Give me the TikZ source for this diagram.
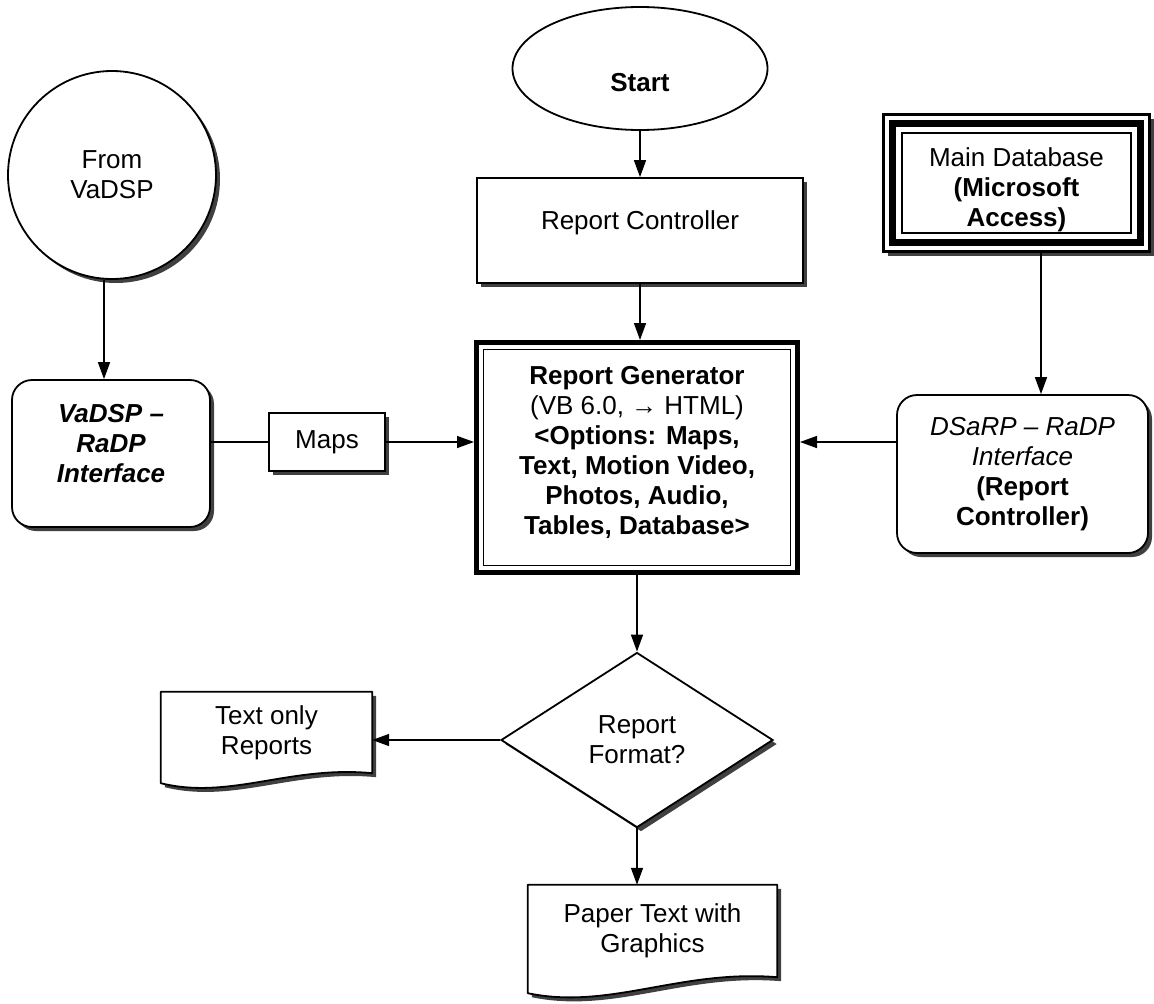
\documentclass[tikz,border=0pt]{standalone}
\usepackage{fontspec}
\setmainfont{Liberation Sans}
\usetikzlibrary{shapes.geometric,arrows.meta,shadows,calc,backgrounds}

\begin{document}
\begin{tikzpicture}[x=1pt,y=-1pt,
  every node/.style={font=\fontsize{26}{30}\selectfont, align=center, inner sep=0pt},
  outline/.style={draw, line width=1.8pt, fill=white},
  castshadow/.style={drop shadow={shadow xshift=4pt, shadow yshift=-4pt, fill=black!75, opacity=1}},
  arr/.style={line width=1.5pt, -{Triangle[length=17pt,width=12pt]}},
  link/.style={line width=1.5pt},
  docline/.style={line width=1.8pt, fill=white, line join=round, castshadow},
]
\useasboundingbox (0,0) rectangle (1154,1004);

% terminals and sources
\node[outline, ellipse, minimum width=255pt, minimum height=123pt,
      font={\fontsize{26}{30}\selectfont\bfseries}, text height=45pt, text depth=0pt]
      (start) at (640,68.5) {Start};
\node[outline, circle, castshadow, minimum size=208pt] (vsrc) at (112,175) {From\\VaDSP};

% process boxes
\node[outline, castshadow, minimum width=326pt, minimum height=105pt,
      text height=18.5pt, text depth=21pt] (rc) at (640,230.5) {Report Controller};

\node[draw, line width=5pt, fill=white, minimum width=321pt, minimum height=230pt]
      (rg) at (637,457.5)
      {\textbf{Report Generator}\\(VB 6.0, → HTML)\\\textbf{<Options: Maps,}\\
       \textbf{Text, Motion Video,}\\\textbf{Photos, Audio,}\\\textbf{Tables, Database>}\rule[-14pt]{0pt}{1pt}};
\draw[line width=1.5pt] ($(rg.north west)+(9.5,9.5)$) rectangle ($(rg.south east)-(9.5,9.5)$);

% database store with triple frame
\node[draw, line width=2.5pt, fill=white, castshadow, minimum width=266pt, minimum height=137pt]
      (mdb) at (1016.5,183) {\rule{0pt}{33pt}Main Database\\\textbf{(Microsoft}\\\textbf{Access)}};
\draw[line width=7pt] ($(mdb.north west)+(10.25,10.25)$) rectangle ($(mdb.south east)-(10.25,10.25)$);
\draw[line width=2.2pt] ($(mdb.north west)+(19.5,19.5)$) rectangle ($(mdb.south east)-(19.5,19.5)$);

% interfaces
\node[outline, castshadow, rounded corners=20pt, minimum width=251pt, minimum height=158pt]
      (dsarp) at (1022.5,474)
      {\textit{DSaRP – RaDP}\\\textit{Interface}\\\textbf{(Report}\\\textbf{Controller)}};
\node[outline, castshadow, rounded corners=20pt, minimum width=198pt, minimum height=147pt]
      (vadsp) at (111,453.5)
      {\textbf{\textit{VaDSP –}}\\\textbf{\textit{RaDP}}\\\textbf{\textit{Interface}}\rule[-20pt]{0pt}{1pt}};
\node[outline, castshadow, minimum width=116pt, minimum height=58pt] (maps) at (327,442) {Maps};

% decision
\node[outline, castshadow, diamond, aspect=1.55, minimum width=272pt, minimum height=175pt]
      (fmt) at (637,740) {Report\\Format?};

% documents: text nodes with the page outline drawn behind them
\node[minimum width=211pt, minimum height=81pt] (txt) at (266.5,732.5) {Text only\\Reports};
\node[minimum width=249pt, minimum height=92pt] (paper) at (652.5,931) {Paper Text with\\Graphics};
\begin{scope}[on background layer]
  \fill[white] (0,0) rectangle (1154,1004);
  \draw[docline] (txt.north west) -- (txt.north east) -- (txt.south east)
    .. controls ($(txt.south east)+(-82,-8)$) and ($(txt.south west)+(69,27)$)
    .. ($(txt.south west)+(0,10)$) -- cycle;
  \draw[docline] (paper.north west) -- (paper.north east) -- (paper.south east)
    .. controls ($(paper.south east)+(-97,-8)$) and ($(paper.south west)+(82,33)$)
    .. ($(paper.south west)+(0,16)$) -- cycle;
\end{scope}

% connectors
\draw[arr] (start.south) -- (rc.north);
\draw[arr] (rc.south) -- (rc.south |- rg.north);
\draw[arr] (vsrc.south -| 104,0) -- (vadsp.north -| 104,0);
\draw[arr] (mdb.south -| 1041,0) -- (dsarp.north -| 1041,0);
\draw[link] (vadsp.east |- maps.west) -- (maps.west);
\draw[arr] (maps.east) -- (maps.east -| rg.west);
\draw[arr] (dsarp.west |- maps.east) -- (rg.east |- maps.east);
\draw[arr] (rg.south) -- (fmt.north);
\draw[arr] (fmt.west) -- (fmt.west -| txt.east);
\draw[arr] (fmt.south) -- (fmt.south |- paper.north);
\end{tikzpicture}
\end{document}
